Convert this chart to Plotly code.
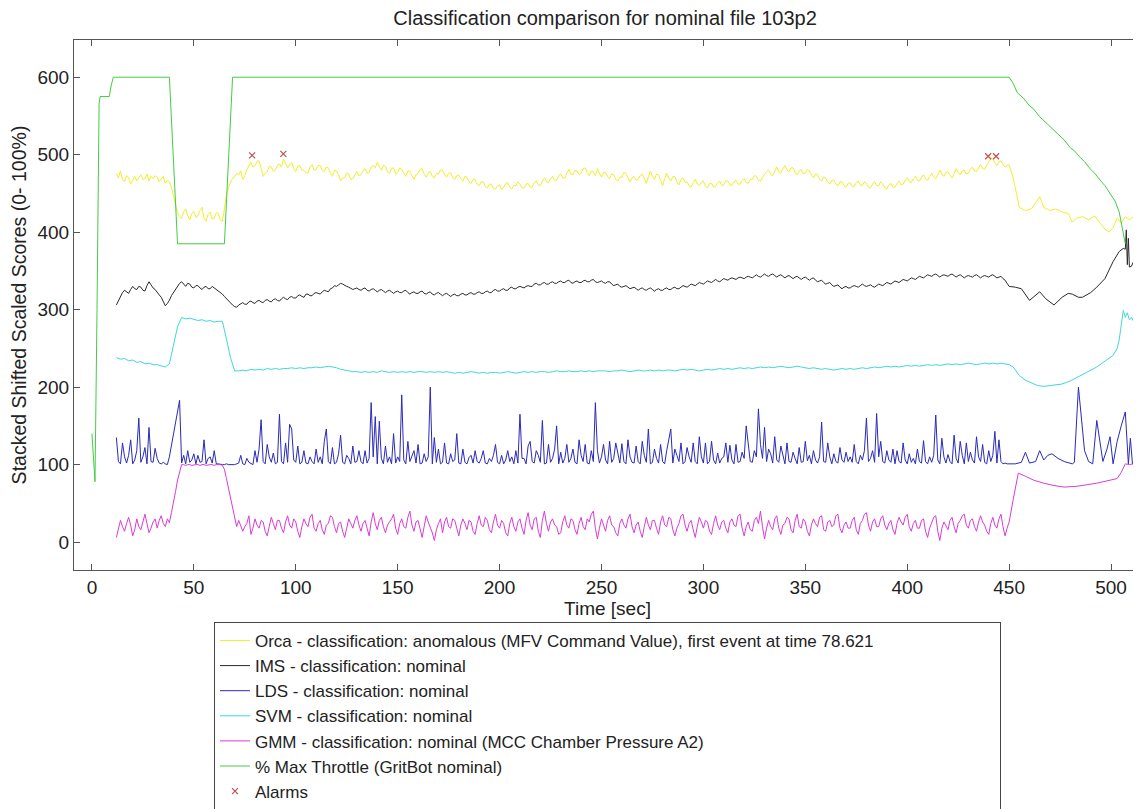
import plotly.graph_objects as go

# ---------------- data ----------------
# 1-second series starting at t = 12 s
orca_vals = [
    476, 470, 479, 468, 465, 473, 470, 462, 467, 472, 466, 471, 474, 468, 469, 475, 466, 472, 469, 473,
    471, 465, 468, 472, 463, 467, 465, 458, 447, 436, 425, 420, 418, 426, 430, 421, 416, 424, 427, 419,
    421, 428, 432, 418, 414, 423, 426, 417, 418, 425, 424, 416, 414, 430, 448, 458, 465, 470, 471, 476,
    474, 479, 468, 473, 481, 485, 490, 484, 486, 491, 492, 483, 472, 476, 478, 485, 484, 478, 480, 486,
    488, 484, 494, 489, 483, 487, 490, 482, 478, 485, 486, 480, 480, 477, 476, 484, 487, 480, 481, 486,
    486, 480, 478, 484, 483, 476, 472, 480, 479, 474, 466, 470, 470, 476, 475, 468, 469, 474, 478, 473,
    474, 479, 482, 476, 477, 484, 486, 483, 490, 485, 480, 486, 485, 478, 476, 482, 483, 475, 477, 483,
    481, 476, 472, 479, 479, 473, 468, 474, 476, 481, 482, 475, 471, 477, 478, 472, 470, 476, 475, 480,
    480, 474, 471, 476, 477, 470, 468, 473, 474, 469, 466, 472, 471, 465, 463, 468, 468, 462, 460, 465,
    465, 459, 457, 462, 462, 456, 456, 460, 461, 455, 458, 463, 464, 458, 456, 461, 460, 465, 462, 457,
    457, 462, 463, 458, 458, 464, 466, 461, 460, 466, 470, 465, 464, 469, 472, 467, 467, 473, 475, 470,
    470, 476, 481, 475, 474, 480, 479, 474, 476, 482, 483, 477, 473, 479, 478, 473, 482, 476, 471, 477,
    477, 472, 469, 475, 474, 468, 466, 471, 471, 477, 476, 470, 465, 470, 472, 467, 468, 473, 475, 469,
    463, 471, 479, 472, 468, 475, 474, 467, 460, 469, 476, 470, 466, 472, 472, 465, 461, 468, 470, 464,
    465, 460, 458, 464, 468, 462, 460, 465, 466, 459, 457, 463, 463, 458, 459, 464, 466, 460, 461, 466,
    466, 461, 460, 465, 467, 462, 462, 467, 469, 464, 463, 468, 468, 473, 472, 467, 466, 471, 475, 478,
    480, 475, 473, 479, 484, 478, 476, 482, 486, 480, 478, 483, 483, 477, 474, 479, 481, 475, 476, 481,
    479, 474, 470, 475, 474, 468, 466, 471, 470, 465, 462, 467, 467, 462, 460, 465, 465, 460, 458, 463,
    464, 459, 459, 464, 466, 461, 460, 465, 463, 458, 457, 462, 465, 460, 460, 465, 462, 457, 456, 461,
    463, 458, 458, 463, 466, 461, 462, 467, 470, 465, 464, 469, 472, 467, 466, 471, 474, 469, 467, 472,
    476, 471, 469, 474, 480, 475, 472, 477, 478, 473, 470, 476, 482, 477, 474, 479, 480, 475, 476, 481,
    484, 479, 478, 483, 487, 482, 481, 486, 490, 495, 494, 489, 486, 491, 492, 487, 484, 486, 487,
]
orca_tail_t = [452, 455, 458, 461, 463, 465, 467, 470, 473, 476, 479, 481, 483, 486,
               489, 492, 494, 497, 499, 501, 503, 505, 507, 509, 511]
orca_tail_v = [470, 432, 428, 430, 438, 446, 432, 428, 430, 426, 424, 413, 418, 420,
               416, 421, 414, 404, 400, 406, 418, 412, 420, 416, 420]

ims_vals = [
    306, 312, 318, 322, 325, 323, 321, 326, 330, 327, 326, 330, 329, 325, 324, 331, 336, 332, 328, 326,
    322, 319, 316, 311, 305, 308, 312, 318, 322, 327, 330, 334, 336, 333, 330, 334, 333, 329, 328, 331,
    331, 328, 326, 329, 330, 327, 327, 330, 328, 326, 325, 323, 320, 317, 314, 311, 309, 306, 304, 303,
    306, 308, 309, 307, 307, 310, 311, 309, 308, 311, 312, 310, 309, 312, 313, 311, 310, 313, 314, 312,
    311, 314, 316, 314, 313, 316, 317, 315, 315, 318, 319, 317, 316, 320, 320, 318, 318, 321, 322, 321,
    320, 323, 325, 324, 323, 327, 328, 331, 330, 332, 334, 333, 331, 330, 329, 328, 326, 327, 328, 326,
    325, 327, 328, 325, 324, 326, 327, 325, 323, 325, 326, 324, 322, 324, 325, 323, 321, 323, 324, 322,
    322, 324, 325, 322, 320, 322, 323, 321, 321, 323, 324, 321, 320, 322, 323, 320, 319, 321, 322, 320,
    318, 320, 321, 319, 317, 319, 320, 318, 318, 320, 321, 319, 319, 321, 322, 320, 320, 322, 323, 321,
    321, 323, 324, 322, 322, 325, 326, 324, 324, 326, 327, 325, 325, 328, 329, 327, 327, 329, 330, 329,
    328, 330, 331, 330, 330, 333, 334, 332, 332, 334, 335, 333, 333, 335, 336, 334, 334, 336, 337, 335,
    335, 337, 338, 335, 334, 336, 337, 335, 335, 337, 338, 336, 336, 338, 339, 336, 335, 336, 337, 335,
    334, 336, 336, 333, 331, 332, 333, 330, 329, 330, 331, 329, 327, 328, 329, 327, 325, 327, 328, 326,
    325, 327, 328, 326, 324, 326, 327, 325, 325, 327, 328, 326, 326, 328, 329, 327, 327, 329, 331, 330,
    329, 331, 333, 332, 331, 333, 335, 334, 333, 335, 337, 336, 335, 337, 339, 337, 336, 338, 340, 339,
    338, 340, 341, 340, 339, 341, 342, 341, 340, 342, 343, 342, 341, 343, 345, 343, 342, 344, 346, 344,
    343, 345, 346, 344, 342, 344, 345, 343, 341, 343, 344, 342, 340, 342, 343, 341, 339, 341, 342, 340,
    338, 340, 341, 338, 336, 337, 338, 335, 333, 334, 335, 332, 330, 331, 332, 329, 327, 329, 330, 328,
    328, 330, 331, 330, 329, 331, 333, 331, 330, 331, 332, 330, 329, 331, 333, 332, 331, 333, 335, 334,
    333, 335, 337, 336, 335, 337, 339, 338, 337, 339, 341, 340, 339, 341, 343, 342, 341, 343, 345, 344,
    343, 345, 346, 344, 342, 344, 345, 344, 343, 345, 346, 344, 342, 344, 345, 343, 341, 343, 344, 343,
    342, 344, 345, 343, 341, 343, 344, 343, 342, 344, 345, 343, 341, 342, 343, 340, 338, 334, 330,
]
ims_tail_t = [453, 456, 460, 463, 465, 468, 472, 476, 479, 481, 484, 486, 490, 493,
              497, 501, 504, 506, 507, 507.5, 508, 508.5, 509, 510, 511]
ims_tail_v = [329, 327, 312, 318, 323, 314, 306, 316, 321, 320, 316, 316, 322, 329,
              340, 362, 375, 379, 378, 403, 358, 392, 355, 356, 362]

lds_vals = [
    135, 104, 101, 128, 110, 102, 112, 132, 101, 106, 118, 160, 103, 110, 122, 101, 148, 104, 103, 121,
    108, 102, 101, 103, 101, 100, 110, 124, 138, 152, 166, 183, 102, 112, 101, 118, 103, 106, 114, 101,
    112, 103, 104, 132, 101, 108, 110, 102, 118, 101, 101, 100, 100, 100, 101, 100, 100, 100, 100, 101,
    102, 112, 101, 100, 108, 103, 101, 100, 118, 103, 120, 158, 104, 101, 126, 110, 103, 115, 101, 103,
    165, 104, 101, 128, 103, 152, 146, 106, 103, 124, 101, 103, 118, 102, 101, 110, 104, 101, 120, 103,
    110, 101, 130, 146, 104, 101, 122, 101, 103, 114, 138, 103, 101, 112, 108, 101, 124, 103, 104, 118,
    104, 101, 118, 102, 108, 180, 110, 162, 101, 156, 108, 101, 124, 103, 110, 101, 140, 102, 110, 104,
    190, 106, 101, 130, 104, 112, 118, 102, 126, 101, 102, 114, 104, 110, 200, 101, 135, 103, 120, 101,
    103, 128, 102, 101, 114, 104, 106, 140, 102, 101, 120, 103, 101, 109, 112, 102, 118, 104, 102, 108,
    118, 102, 101, 108, 104, 112, 126, 103, 101, 112, 101, 106, 118, 104, 110, 101, 118, 102, 165, 108,
    108, 101, 124, 130, 104, 102, 118, 112, 103, 157, 101, 102, 126, 103, 108, 120, 150, 101, 116, 102,
    108, 126, 103, 108, 120, 103, 101, 132, 112, 104, 126, 102, 101, 118, 104, 180, 118, 102, 110, 126,
    106, 101, 130, 103, 108, 128, 116, 102, 127, 104, 101, 132, 110, 103, 102, 124, 104, 101, 130, 112,
    103, 146, 101, 103, 120, 108, 102, 126, 104, 101, 118, 132, 146, 102, 120, 112, 104, 128, 101, 104,
    122, 110, 103, 128, 104, 101, 136, 110, 102, 128, 101, 104, 130, 106, 101, 115, 102, 108, 110, 128,
    103, 125, 106, 101, 126, 103, 104, 116, 108, 150, 122, 104, 103, 118, 110, 172, 126, 108, 148, 104,
    120, 114, 102, 136, 106, 103, 124, 110, 101, 128, 104, 103, 116, 108, 101, 122, 103, 104, 130, 105,
    112, 101, 118, 106, 102, 110, 155, 104, 103, 128, 110, 101, 114, 104, 102, 122, 106, 103, 116, 104,
    110, 103, 126, 104, 101, 112, 106, 118, 160, 104, 108, 118, 103, 166, 110, 130, 104, 102, 118, 106,
    103, 120, 101, 118, 104, 102, 128, 106, 101, 114, 103, 108, 101, 120, 104, 102, 131, 104, 101, 110,
    103, 112, 164, 106, 101, 134, 110, 102, 113, 104, 101, 138, 108, 102, 130, 112, 101, 128, 104, 116,
    106, 102, 136, 110, 104, 126, 103, 101, 118, 104, 112, 143, 102, 132, 104, 101, 102, 101, 101,
]
lds_tail_t = [453, 456, 458, 460, 463, 465, 467, 469, 471, 474, 477, 481, 482, 484,
              486, 487, 489, 491, 493, 495, 496, 498, 499.5, 501, 503, 505, 507,
              508.5, 509.5, 510.5, 511]
lds_tail_v = [101, 103, 116, 102, 104, 118, 106, 112, 114, 108, 104, 101, 103, 200,
              148, 118, 104, 101, 157, 120, 104, 120, 136, 101, 130, 150, 168,
              101, 134, 101, 104]

gmm_vals = [
    6, 18, 28, 20, 14, 24, 32, 22, 8, 16, 30, 20, 16, 26, 36, 24, 12, 18, 26, 30,
    18, 28, 34, 24, 20, 30, 25, 38, 50, 65, 80, 92, 100, 100, 99, 100, 100, 99, 100, 100,
    100, 99, 100, 100, 99, 100, 100, 100, 99, 100, 100, 100, 99, 94, 82, 70, 58, 45, 32, 20,
    28, 22, 14, 20, 24, 34, 10, 18, 30, 22, 18, 28, 26, 14, 8, 20, 32, 24, 16, 28,
    28, 18, 12, 26, 34, 22, 18, 30, 26, 14, 6, 20, 30, 24, 20, 32, 36, 18, 14, 24,
    28, 16, 10, 22, 24, 34, 32, 20, 12, 24, 26, 14, 6, 18, 30, 24, 18, 28, 34, 22,
    14, 24, 28, 18, 8, 26, 38, 24, 16, 28, 32, 20, 12, 22, 26, 30, 36, 18, 10, 24,
    30, 20, 18, 32, 40, 22, 14, 26, 28, 16, 6, 20, 34, 26, 20, 12, 2, 16, 24, 30,
    12, 26, 32, 20, 18, 30, 28, 16, 8, 22, 30, 24, 16, 28, 26, 14, 10, 24, 34, 22,
    20, 32, 28, 16, 12, 26, 36, 22, 18, 28, 24, 12, 8, 24, 32, 20, 14, 26, 30, 18,
    10, 28, 38, 22, 16, 30, 32, 14, 6, 28, 40, 24, 14, 26, 30, 22, 20, 10, 12, 26,
    34, 22, 18, 30, 28, 16, 10, 24, 32, 20, 16, 30, 26, 36, 40, 18, 4, 18, 30, 22,
    14, 28, 34, 22, 20, 12, 8, 24, 30, 22, 18, 30, 36, 20, 12, 22, 26, 14, 6, 20,
    32, 22, 16, 28, 28, 18, 10, 26, 34, 22, 20, 32, 30, 16, 8, 18, 24, 34, 36, 22,
    14, 24, 28, 16, 6, 20, 32, 26, 18, 28, 26, 14, 10, 24, 34, 22, 16, 26, 28, 18,
    12, 26, 30, 22, 20, 34, 36, 18, 8, 20, 26, 16, 14, 28, 32, 24, 40, 20, 4, 18,
    28, 20, 16, 30, 34, 18, 10, 22, 24, 32, 30, 16, 12, 28, 36, 20, 18, 30, 26, 14,
    8, 22, 30, 24, 20, 32, 34, 16, 14, 26, 28, 20, 22, 34, 36, 18, 12, 22, 26, 18,
    18, 28, 32, 16, 10, 24, 28, 36, 38, 22, 14, 26, 30, 20, 20, 30, 34, 22, 16, 24,
    28, 16, 10, 24, 32, 26, 22, 32, 36, 20, 14, 24, 28, 18, 18, 28, 30, 14, 6, 18,
    24, 32, 34, 14, 2, 18, 26, 20, 16, 28, 32, 20, 12, 24, 28, 34, 36, 22, 18, 28,
    30, 20, 14, 26, 34, 26, 22, 14, 10, 24, 32, 22, 18, 30, 36, 20, 8, 18, 26,
]
gmm_tail_t = [452, 454.5, 458, 462, 467, 472, 477, 483, 488, 493, 498, 503, 505, 507, 509, 511]
gmm_tail_v = [55, 89, 85, 80, 76, 73, 71, 72, 74, 76, 79, 82, 90, 101, 100, 101]

# 2-second series starting at t = 12 s
svm_vals = [
    238, 236, 237, 234, 235, 232, 233, 230, 231, 229,
    229, 227, 226, 230, 252, 278, 290, 288, 289, 287,
    286, 287, 285, 286, 284, 285, 285, 262, 238, 221,
    221, 222, 221, 223, 222, 223, 222, 224, 223, 224,
    223, 224, 224, 225, 224, 225, 224, 225, 225, 226,
    225, 226, 227, 226, 225, 223, 222, 221, 220, 220,
    219, 220, 219, 220, 219, 221, 220, 219, 220, 219,
    220, 219, 220, 219, 220, 220, 219, 220, 219, 220,
    219, 220, 219, 218, 219, 218, 219, 220, 219, 218,
    219, 218, 219, 219, 218, 219, 220, 219, 218, 219,
    220, 219, 220, 219, 220, 220, 219, 220, 221, 220,
    220, 221, 220, 220, 221, 220, 221, 220, 221, 221,
    221, 220, 221, 221, 222, 221, 220, 221, 222, 221,
    221, 222, 221, 222, 221, 222, 222, 221, 222, 223,
    222, 223, 222, 221, 222, 223, 222, 223, 224, 223,
    224, 223, 224, 225, 224, 225, 224, 225, 226, 225,
    226, 225, 226, 227, 226, 225, 226, 227, 226, 225,
    224, 225, 224, 223, 224, 223, 222, 223, 224, 223,
    224, 223, 224, 225, 224, 225, 226, 225, 226, 227,
    226, 227, 226, 227, 228, 227, 228, 227, 228, 229,
    228, 229, 228, 229, 230, 229, 230, 229, 230, 231,
    230, 229, 230, 231, 230, 231, 230, 231, 230, 229,
]
svm_tail_t = [452, 455, 458, 461, 464, 467, 470, 473, 476, 480, 484, 488, 493, 497,
              501, 503, 504, 505, 506, 507, 508, 509, 510, 511]
svm_tail_v = [226, 215, 209, 205, 202, 201, 202, 203, 204, 208, 213, 219, 226, 233,
              241, 250, 261, 280, 299, 290, 296, 287, 290, 285]

throttle_t = [0, 1.5, 2.5, 3.5, 4, 8.5, 9.5, 10.5, 38, 42, 65, 69, 450, 452, 454, 457,
              460, 462, 465, 467, 470, 472, 475, 477, 480, 482, 485, 487, 490, 492,
              495, 497, 500, 502, 504, 505, 506, 507]
throttle_v = [140, 78, 300, 565, 575, 575, 590, 600, 600, 385, 385, 600, 600, 592, 580, 573,
              563, 559, 549, 544, 536, 531, 523, 519, 509, 505, 496, 491, 481, 476,
              466, 460, 448, 440, 426, 412, 395, 385]

alarm_t = [78.6, 93.9, 439.7, 443.6]
alarm_v = [499, 501, 498, 498]

legend_names = [
    "Orca - classification: anomalous (MFV Command Value), first event at time 78.621",
    "IMS - classification: nominal",
    "LDS - classification: nominal",
    "SVM - classification: nominal",
    "GMM - classification: nominal (MCC Chamber Pressure A2)",
    "% Max Throttle (GritBot nominal)",
    "Alarms",
]
colors = ["#f2ee2a", "#2a2a2a", "#2a2ab8", "#3fd8d8", "#d83cd8", "#44cc44", "#c0504d"]
x_ticks = [0, 50, 100, 150, 200, 250, 300, 350, 400, 450, 500]
y_ticks = [0, 100, 200, 300, 400, 500, 600]


def t1(vals):
    return [12 + i for i in range(len(vals))]


def t2(vals):
    return [12 + 2 * i for i in range(len(vals))]


series = [
    (t1(orca_vals) + orca_tail_t, orca_vals + orca_tail_v),
    (t1(ims_vals) + ims_tail_t, ims_vals + ims_tail_v),
    (t1(lds_vals) + lds_tail_t, lds_vals + lds_tail_v),
    (t2(svm_vals) + svm_tail_t, svm_vals + svm_tail_v),
    (t1(gmm_vals) + gmm_tail_t, gmm_vals + gmm_tail_v),
    (throttle_t, throttle_v),
]

fig = go.Figure()
for (xs, ys), name, col in zip(series, legend_names[:6], colors[:6]):
    fig.add_trace(go.Scatter(x=xs, y=ys, mode="lines", name=name,
                             line=dict(color=col, width=1)))
fig.add_trace(go.Scatter(x=alarm_t, y=alarm_v, mode="markers", name=legend_names[6],
                         marker=dict(symbol="x-thin", size=6, color=colors[6],
                                     line=dict(color=colors[6], width=1.2))))

font_fam = "Arial, 'Liberation Sans', sans-serif"
txt = "#222222"
axis_common = dict(showline=True, linecolor="#555555", linewidth=1, mirror="ticks",
                   ticks="inside", ticklen=6, tickcolor="#555555", showgrid=False,
                   zeroline=False, automargin=False,
                   tickfont=dict(size=19, color=txt, family=font_fam))

# the page body adds an 8 px margin, so the figure is 16 px smaller and margins shifted
fig.update_layout(
    width=1133, height=801,
    paper_bgcolor="white", plot_bgcolor="white",
    margin=dict(l=66, r=0, t=32, b=239, autoexpand=False),
    title=dict(text="Classification comparison for nominal file 103p2", x=0.527, xanchor="center",
               y=0.9875, yanchor="middle", font=dict(size=20, color=txt, family=font_fam)),
    xaxis=dict(range=[-8.8, 514.7], tickvals=x_ticks,
               title=dict(text="Time [sec]", standoff=4, font=dict(size=19, color=txt, family=font_fam)),
               **axis_common),
    yaxis=dict(range=[-36, 648], tickvals=y_ticks,
               title=dict(text="Stacked Shifted Scaled Scores (0- 100%)", standoff=8,
                          font=dict(size=19.5, color=txt, family=font_fam)),
               **axis_common),
    showlegend=True,
    legend=dict(orientation="h", x=0.1312, xanchor="left", y=-0.098, yanchor="top",
                bgcolor="white", bordercolor="#444444", borderwidth=1,
                font=dict(size=17, color=txt, family=font_fam),
                tracegroupgap=0, entrywidth=740, entrywidthmode="pixels"),
)

fig.write_html("out.html")
